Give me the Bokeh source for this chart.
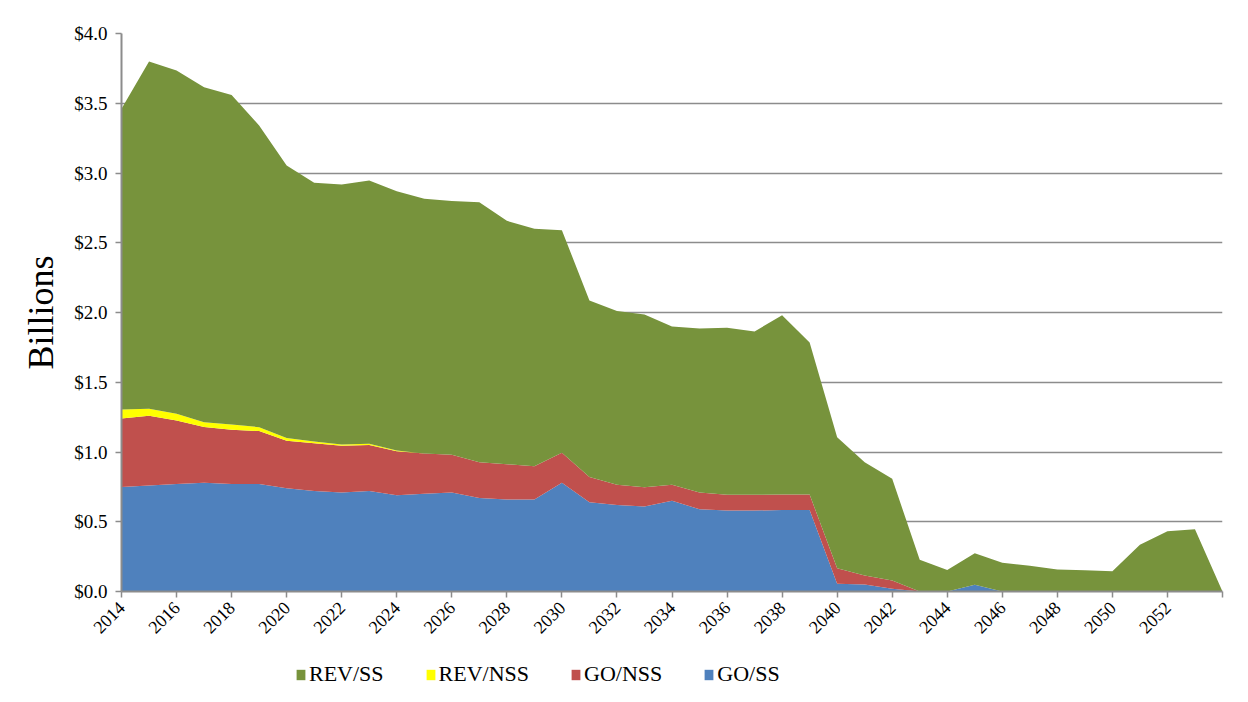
import math
from bokeh.plotting import figure
from bokeh.layouts import column
from bokeh.models import (ColumnDataSource, Range1d, FixedTicker, NumeralTickFormatter,
                          Legend, LegendItem)
from bokeh.embed import file_html
from bokeh.resources import INLINE

years = list(range(2014, 2055))

go_ss = [0.75, 0.76, 0.77, 0.78, 0.77, 0.77, 0.74, 0.72, 0.71, 0.72,
         0.69, 0.70, 0.71, 0.67, 0.66, 0.66, 0.78, 0.64, 0.62, 0.61,
         0.65, 0.59, 0.58, 0.58, 0.585, 0.585, 0.055, 0.05, 0.02, 0.0,
         0.0, 0.048, 0.0, 0.0, 0.0, 0.0, 0.0, 0.0, 0.0, 0.0, 0.0]

go_nss = [0.49, 0.50, 0.455, 0.40, 0.39, 0.38, 0.34, 0.343, 0.334, 0.331,
          0.316, 0.29, 0.27, 0.257, 0.253, 0.238, 0.214, 0.18, 0.145, 0.138,
          0.115, 0.12, 0.113, 0.113, 0.11, 0.11, 0.112, 0.065, 0.059, 0.0,
          0.0, 0.0, 0.0, 0.0, 0.0, 0.0, 0.0, 0.0, 0.0, 0.0, 0.0]

rev_nss = [0.065, 0.05, 0.049, 0.034, 0.037, 0.028, 0.02, 0.012, 0.01, 0.008,
           0.005, 0.0, 0.0, 0.0, 0.0, 0.0, 0.0, 0.0, 0.0, 0.0,
           0.0, 0.0, 0.0, 0.0, 0.0, 0.0, 0.0, 0.0, 0.0, 0.0,
           0.0, 0.0, 0.0, 0.0, 0.0, 0.0, 0.0, 0.0, 0.0, 0.0, 0.0]

rev_ss = [2.155, 2.49, 2.461, 2.401, 2.363, 2.162, 1.954, 1.855, 1.863, 1.887,
          1.859, 1.825, 1.82, 1.863, 1.744, 1.702, 1.596, 1.266, 1.245, 1.237,
          1.135, 1.175, 1.197, 1.171, 1.285, 1.09, 0.939, 0.812, 0.729, 0.227,
          0.155, 0.227, 0.206, 0.185, 0.158, 0.153, 0.146, 0.335, 0.432, 0.447, 0.0]

series_names = ["GO/SS", "GO/NSS", "REV/NSS", "REV/SS"]
legend_order = ["REV/SS", "REV/NSS", "GO/NSS", "GO/SS"]
colors = ["#4F81BD", "#C0504D", "#FFFF00", "#77933C"]
x_ticks = list(range(2014, 2055, 2))

source = ColumnDataSource(data={
    "year": years,
    "GO/SS": go_ss,
    "GO/NSS": go_nss,
    "REV/NSS": rev_nss,
    "REV/SS": rev_ss,
})

FONT = "Liberation Serif"
W = 1240
H_MAIN, H_LEG = 648, 54

p = figure(width=W, height=H_MAIN, output_backend="svg", toolbar_location=None,
           x_range=Range1d(2014, 2054), y_range=Range1d(0, 4.0),
           min_border_left=121, min_border_right=18, min_border_top=33,
           min_border_bottom=57)

rs = p.varea_stack(stackers=series_names, x="year", color=colors, source=source)

# grid
p.xgrid.visible = False
p.ygrid.grid_line_color = "#8C8C8C"
p.ygrid.grid_line_width = 1.5
p.ygrid.ticker = FixedTicker(ticks=[0.5 * i for i in range(9)])
p.outline_line_color = None

# y axis
p.yaxis.ticker = FixedTicker(ticks=[0.5 * i for i in range(9)])
p.yaxis.formatter = NumeralTickFormatter(format="$0.0")
p.yaxis.axis_label = "Billions"
p.yaxis.axis_label_text_font = FONT
p.yaxis.axis_label_text_font_style = "normal"
p.yaxis.axis_label_text_font_size = "36px"
p.yaxis.axis_label_text_color = "black"
p.yaxis.axis_label_standoff = 10
p.yaxis.major_label_text_font = FONT
p.yaxis.major_label_text_font_size = "19px"
p.yaxis.major_label_text_color = "black"
p.yaxis.major_label_standoff = 8
p.yaxis.minor_tick_line_color = None

# x axis
p.xaxis.ticker = FixedTicker(ticks=x_ticks)
p.xaxis.major_label_overrides = {2054: ""}
p.xaxis.major_label_orientation = math.pi / 4
p.xaxis.major_label_text_font = FONT
p.xaxis.major_label_text_font_size = "18px"
p.xaxis.major_label_text_color = "black"
p.xaxis.major_label_standoff = 7
p.xaxis.minor_tick_line_color = None

for ax in (p.xaxis, p.yaxis):
    ax.axis_line_color = "#8C8C8C"
    ax.axis_line_width = 2
    ax.major_tick_line_color = "#8C8C8C"
    ax.major_tick_line_width = 1.5
    ax.major_tick_out = 6
    ax.major_tick_in = 0

# legend strip (separate figure holding the legend)
lf = figure(width=W, height=H_LEG, output_backend="svg", toolbar_location=None,
            x_range=p.x_range, y_range=Range1d(10, 11),
            x_axis_location=None, y_axis_location=None, min_border=0)
lf.grid.visible = False
lf.outline_line_color = None
lrs = lf.varea_stack(stackers=series_names, x="year", color=colors, source=source)
lmap = dict(zip(series_names, lrs))

legend = Legend(items=[LegendItem(label=n, renderers=[lmap[n]]) for n in legend_order],
                orientation="horizontal", location=(174, 15))
legend.label_text_font = FONT
legend.label_text_font_size = "22px"
legend.label_text_color = "black"
legend.glyph_width = 11
legend.glyph_height = 13
legend.label_standoff = 3
legend.spacing = 41
legend.padding = 0
legend.margin = 0
legend.border_line_color = None
legend.background_fill_alpha = 0
lf.add_layout(legend, "center")

layout = column(p, lf, spacing=0)
open("out.html", "w").write(file_html(layout, INLINE))
